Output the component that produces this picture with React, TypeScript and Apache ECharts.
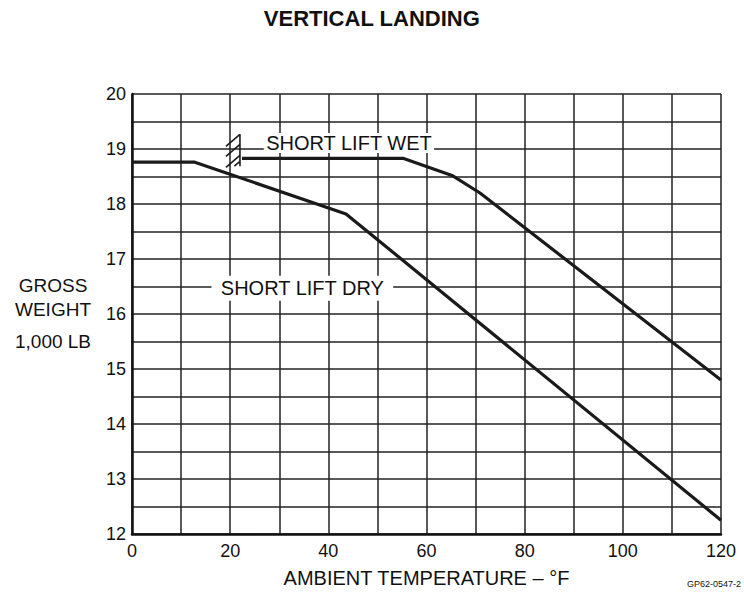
import React, { useEffect, useRef } from "react";
import * as echarts from "echarts";

const title = "VERTICAL LANDING";
const xAxisTitle = "AMBIENT TEMPERATURE – °F";
const yAxisTitleLines = ["GROSS", "WEIGHT", "1,000 LB"];
const figureCode = "GP62-0547-2";

// Short lift dry curve: [temperature °F, gross weight 1,000 lb]
const dryCurve: [number, number][] = [
  [0, 18.76],
  [12.8, 18.76],
  [43.6, 17.82],
  [120, 12.25],
];
// Short lift wet curve
const wetCurve: [number, number][] = [
  [22.4, 18.83],
  [55.2, 18.83],
  [65.2, 18.52],
  [70.9, 18.2],
  [120, 14.8],
];

const dryLabel = { text: "SHORT LIFT DRY", at: [34.7, 16.47] as [number, number] };
const wetLabel = { text: "SHORT LIFT WET", at: [44.2, 19.11] as [number, number] };

const FONT = "'Liberation Sans', Arial, Helvetica, sans-serif";
const INK = "#111";

export default function App() {
  const ref = useRef<HTMLDivElement>(null);
  useEffect(() => {
    if (!ref.current) return;
    const chart = echarts.init(ref.current, null, { renderer: "svg" });
    const option: any = {
      animation: false,
      backgroundColor: "#fff",
      grid: { left: 132, right: 23, top: 94, bottom: 58, containLabel: false },
      graphic: [
        {
          type: "text",
          left: "center",
          top: 7,
          style: { text: title, font: `bold 22px ${FONT}`, fill: INK },
        },
        ...yAxisTitleLines.map((t, i) => ({
          type: "text",
          x: 53,
          y: [285, 309, 341][i],
          style: { text: t, font: `19px ${FONT}`, fill: INK, align: "center", verticalAlign: "middle" },
        })),
        {
          type: "text",
          x: 741,
          y: 584,
          style: { text: figureCode, font: `9px ${FONT}`, fill: INK, align: "right", verticalAlign: "middle" },
        },
      ],
      xAxis: {
        type: "value",
        min: 0,
        max: 120,
        interval: 10,
        name: xAxisTitle,
        nameLocation: "middle",
        nameGap: 34,
        nameTextStyle: { fontFamily: FONT, fontSize: 20, color: INK },
        axisLine: { show: true, lineStyle: { color: INK, width: 2.5 } },
        axisTick: { show: false },
        axisLabel: {
          margin: 8,
          fontFamily: FONT,
          fontSize: 18,
          color: INK,
          formatter: (v: number) => (v % 20 === 0 ? String(v) : ""),
        },
        splitLine: { show: true, lineStyle: { color: "#222", width: 1.5 } },
      },
      yAxis: {
        type: "value",
        min: 12,
        max: 20,
        interval: 0.5,
        axisLine: { show: true, lineStyle: { color: INK, width: 2.5 } },
        axisTick: { show: false },
        axisLabel: {
          margin: 6,
          fontFamily: FONT,
          fontSize: 18,
          color: INK,
          formatter: (v: number) => (Number.isInteger(v) ? String(v) : ""),
        },
        splitLine: { show: true, lineStyle: { color: "#222", width: 1.5 } },
      },
      series: [
        {
          type: "custom",
          coordinateSystem: "cartesian2d",
          data: [dryLabel.at, wetLabel.at],
          z: 5,
          renderItem: (params: any, api: any) => {
            const p = api.coord([api.value(0), api.value(1)]);
            const lab = params.dataIndex === 0 ? dryLabel : wetLabel;
            const pad = params.dataIndex === 0 ? [3, 9, 2, 9] : [0, 2, 0, 2];
            return {
              type: "text",
              x: p[0],
              y: p[1],
              style: {
                text: lab.text,
                font: `20px ${FONT}`,
                fill: INK,
                align: "center",
                verticalAlign: "middle",
                backgroundColor: "#fff",
                padding: pad,
              },
            };
          },
        },
        {
          type: "line",
          data: dryCurve,
          symbol: "none",
          z: 6,
          lineStyle: { color: "#1a1a1a", width: 3.2 },
        },
        {
          type: "line",
          data: wetCurve,
          symbol: "none",
          z: 6,
          lineStyle: { color: "#1a1a1a", width: 3.2 },
        },
        {
          type: "custom",
          coordinateSystem: "cartesian2d",
          data: [wetCurve[0]],
          z: 7,
          renderItem: (params: any, api: any) => {
            const p = api.coord([api.value(0), api.value(1)]);
            const vx = p[0] - 2;
            const st = { stroke: "#1a1a1a", lineWidth: 1.6 };
            const diag = (dy: number, len = 1) => ({
              type: "line",
              shape: { x1: vx, y1: p[1] + dy, x2: vx - 14 * len, y2: p[1] + dy + 12 * len },
              style: st,
            });
            return {
              type: "group",
              children: [
                { type: "line", shape: { x1: vx, y1: p[1] - 24, x2: vx, y2: p[1] + 8 }, style: st },
                diag(-24),
                diag(-14),
                diag(-3),
                diag(3, 0.4),
              ],
            };
          },
        },
      ],
    };
    chart.setOption(option);
    return () => chart.dispose();
  }, []);
  return (
    <div
      ref={ref}
      style={{ position: "absolute", left: 0, top: 0, width: 744, height: 593, background: "#fff" }}
    />
  );
}
